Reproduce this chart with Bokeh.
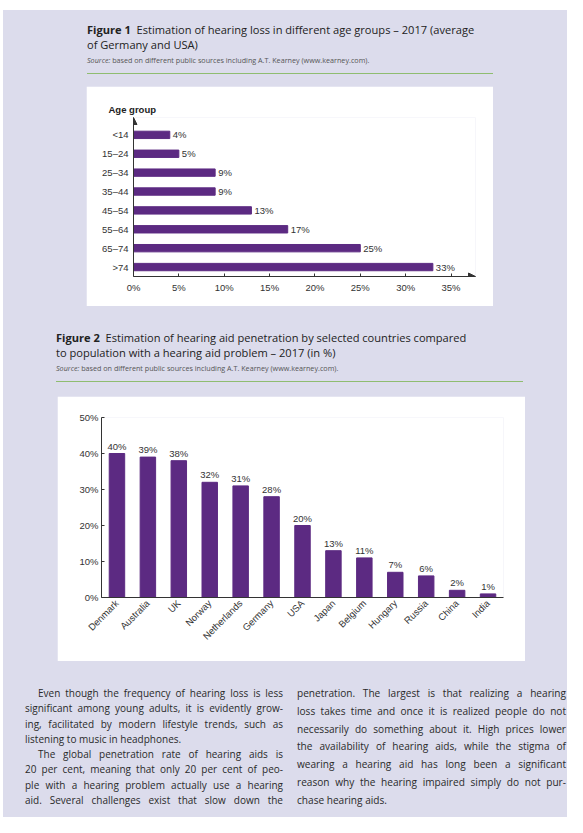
import math
from bokeh.plotting import figure
from bokeh.layouts import column, row
from bokeh.models import (Div, Spacer, Range1d, FactorRange, FixedTicker, PrintfTickFormatter,
                          ColumnDataSource, LabelSet, Arrow, NormalHead)
from bokeh.core.properties import value
from bokeh.embed import file_html
from bokeh.resources import INLINE

# ---------------- data ----------------
age_groups = ["<14", "15–24", "25–34", "35–44", "45–54", "55–64", "65–74", ">74"]
hearing_loss_pct = [4, 5, 9, 9, 13, 17, 25, 33]
fig1_xticks = [0, 5, 10, 15, 20, 25, 30, 35]

countries = ["Denmark", "Australia", "UK", "Norway", "Netherlands", "Germany", "USA",
             "Japan", "Belgium", "Hungary", "Russia", "China", "India"]
penetration_pct = [40, 39, 38, 32, 31, 28, 20, 13, 11, 7, 6, 2, 1]
fig2_yticks = [0, 10, 20, 30, 40, 50]

fig1_title = ["Figure 1", "Estimation of hearing loss in different age groups – 2017 (average",
              "of Germany and USA)"]
fig2_title = ["Figure 2", "Estimation of hearing aid penetration by selected countries compared",
              "to population with a hearing aid problem – 2017 (in %)"]
source_text = "based on different public sources including A.T. Kearney (www.kearney.com)."

left_lines = [
    "Even though the frequency of hearing loss is less",
    "significant among young adults, it is evidently grow-",
    "ing, facilitated by modern lifestyle trends, such as",
    "listening to music in headphones.",
    "The global penetration rate of hearing aids is",
    "20 per cent, meaning that only 20 per cent of peo-",
    "ple with a hearing problem actually use a hearing",
    "aid. Several challenges exist that slow down the",
]
right_lines = [
    "penetration. The largest is that realizing a hearing",
    "loss takes time and once it is realized people do not",
    "necessarily do something about it. High prices lower",
    "the availability of hearing aids, while the stigma of",
    "wearing a hearing aid has long been a significant",
    "reason why the hearing impaired simply do not pur-",
    "chase hearing aids.",
]
left_indent = [0, 4]
left_par_end = [3]

# ---------------- styles ----------------
BG = "#dcdcec"
PURPLE = "#5c2a82"
GREEN = "#8fbd70"
TXT = "#333333"
CHART_FONT = "Liberation Sans"
CAP_FONT = "Open Sans"
NOM = (0, 0, 0, 0)


def caption(lines, line_w):
    return (
        f'<div style="font-family:\'{CAP_FONT}\';color:#222;font-size:11.1px;line-height:15px;white-space:nowrap">'
        f'<b>{lines[0]}</b>&nbsp; {lines[1]}<br>{lines[2]}</div>'
        f'<div style="font-family:\'{CAP_FONT}\';color:#555;font-size:7.2px;line-height:10px;margin-top:3px;white-space:nowrap">'
        f'<i>Source:</i> {source_text}</div>'
        f'<div style="background:{GREEN};margin-top:8px;width:{line_w}px;height:1px"></div>'
    )


cap1 = Div(text=caption(fig1_title, 406), width=440, height=64, margin=NOM)
cap2 = Div(text=caption(fig2_title, 467), width=480, height=66, margin=NOM)

# ---------------- figure 1 ----------------
n1 = len(age_groups)
ypos = [n1 - 1 - i for i in range(n1)]
x1_end = 37.7
y1_start, y1_end = -0.5, n1 - 0.08

p1 = figure(width=407, height=220, output_backend="svg", toolbar_location=None,
            x_range=Range1d(0, x1_end), y_range=Range1d(y1_start, y1_end),
            min_border_left=47, min_border_right=18, min_border_top=31, min_border_bottom=30)
p1.background_fill_color = "white"
p1.border_fill_color = "white"
p1.outline_line_color = None
p1.grid.visible = False
p1.title.text = "Age group"
p1.title.align = "left"
p1.title.offset = -25
p1.title.standoff = 6
p1.title.text_font = CHART_FONT
p1.title.text_font_size = "9.5px"
p1.title.text_font_style = "bold"
p1.title.text_color = "#222"

src1 = ColumnDataSource(dict(y=ypos, v=hearing_loss_pct,
                             lab=[f"{v}%" for v in hearing_loss_pct]))
p1.hbar(y="y", right="v", left=0, height=0.39, source=src1, color=PURPLE)
p1.add_layout(LabelSet(x="v", y="y", text="lab", source=src1, x_offset=3,
                       text_baseline="middle", text_align="left",
                       text_font=value(CHART_FONT), text_font_size=value("9.5px"),
                       text_color=TXT))

p1.xaxis.ticker = FixedTicker(ticks=fig1_xticks)
p1.xaxis.formatter = PrintfTickFormatter(format="%d%%")
p1.xaxis.major_tick_in = 3
p1.xaxis.major_tick_out = 0
p1.xaxis.minor_tick_line_color = None
p1.xaxis.major_label_standoff = 5
p1.yaxis.ticker = FixedTicker(ticks=ypos)
p1.yaxis.major_label_overrides = {y: g for y, g in zip(ypos, age_groups)}
p1.yaxis.major_tick_in = 0
p1.yaxis.major_tick_out = 0
p1.yaxis.minor_tick_line_color = None
p1.yaxis.major_label_standoff = 5
for ax in (p1.xaxis, p1.yaxis):
    ax.axis_line_color = TXT
    ax.major_tick_line_color = TXT
    ax.major_label_text_font = CHART_FONT
    ax.major_label_text_font_size = "9.5px"
    ax.major_label_text_color = TXT

p1.add_layout(Arrow(end=NormalHead(size=7, fill_color=TXT, line_color=TXT),
                    x_start=x1_end - 1.2, y_start=y1_start, x_end=x1_end, y_end=y1_start,
                    line_color=TXT, line_width=1))
p1.add_layout(Arrow(end=NormalHead(size=7, fill_color=TXT, line_color=TXT),
                    x_start=0, y_start=y1_end - 0.4, x_end=0, y_end=y1_end,
                    line_color=TXT, line_width=1))

# ---------------- figure 2 ----------------
p2 = figure(width=468, height=265, output_backend="svg", toolbar_location=None,
            x_range=FactorRange(factors=countries, range_padding=0),
            y_range=Range1d(0, 50),
            min_border_left=44, min_border_right=22, min_border_top=21, min_border_bottom=64)
p2.background_fill_color = "white"
p2.border_fill_color = "white"
p2.outline_line_color = None
p2.grid.visible = False

src2 = ColumnDataSource(dict(c=countries, v=penetration_pct,
                             lab=[f"{v}%" for v in penetration_pct]))
p2.vbar(x="c", top="v", width=0.5, source=src2, color=PURPLE)
p2.add_layout(LabelSet(x="c", y="v", text="lab", source=src2, y_offset=2,
                       text_baseline="bottom", text_align="center",
                       text_font=value(CHART_FONT), text_font_size=value("9.5px"),
                       text_color=TXT))

p2.yaxis.ticker = FixedTicker(ticks=fig2_yticks)
p2.yaxis.formatter = PrintfTickFormatter(format="%d%%")
p2.yaxis.major_tick_in = 3
p2.yaxis.major_tick_out = 0
p2.yaxis.minor_tick_line_color = None
p2.yaxis.major_label_standoff = 3
p2.xaxis.major_tick_in = 0
p2.xaxis.major_tick_out = 0
p2.xaxis.major_label_orientation = math.pi / 4
p2.xaxis.major_label_standoff = 4
for ax in (p2.xaxis, p2.yaxis):
    ax.axis_line_color = TXT
    ax.major_tick_line_color = TXT
    ax.major_label_text_font = CHART_FONT
    ax.major_label_text_font_size = "9.5px"
    ax.major_label_text_color = TXT

# ---------------- body text ----------------
def line_div(t, last=False, indent=False, lh=15.3):
    al = "left" if last else "justify"
    ind = "text-indent:13px;" if indent else ""
    return (f'<div style="text-align:justify;text-align-last:{al};{ind}height:{lh}px;'
            f'line-height:{lh}px;white-space:nowrap">{t}</div>')

left_html = "".join(line_div(t, last=(i in left_par_end), indent=(i in left_indent), lh=15.3)
                    for i, t in enumerate(left_lines))
right_html = "".join(line_div(t, last=(i == len(right_lines) - 1), lh=17.8)
                     for i, t in enumerate(right_lines))
body_html = (
    f'<div style="display:flex;font-family:\'{CAP_FONT}\';color:#2a2a2a">'
    f'<div style="width:258px;padding-top:1px;font-size:10px">{left_html}</div>'
    f'<div style="width:269px;margin-left:14px;font-size:10.1px">{right_html}</div></div>'
)
body = Div(text=body_html, width=542, height=130, margin=NOM)

inner = column(
    Spacer(width=564, height=12, margin=NOM),
    row(Spacer(width=84, height=64, margin=NOM), cap1),
    row(Spacer(width=83, height=220, margin=NOM), p1),
    Spacer(width=564, height=24, margin=NOM),
    row(Spacer(width=53, height=66, margin=NOM), cap2),
    row(Spacer(width=54, height=265, margin=NOM), p2),
    Spacer(width=564, height=24, margin=NOM),
    row(Spacer(width=22, height=130, margin=NOM), body),
    width=564, height=807, styles={"background-color": BG})

layout = column(
    Spacer(width=567, height=10, margin=NOM),
    row(Spacer(width=3, height=807, margin=NOM), inner),
    width=567, height=817, styles={"background-color": "white"})

open("out.html", "w").write(file_html(layout, INLINE))
